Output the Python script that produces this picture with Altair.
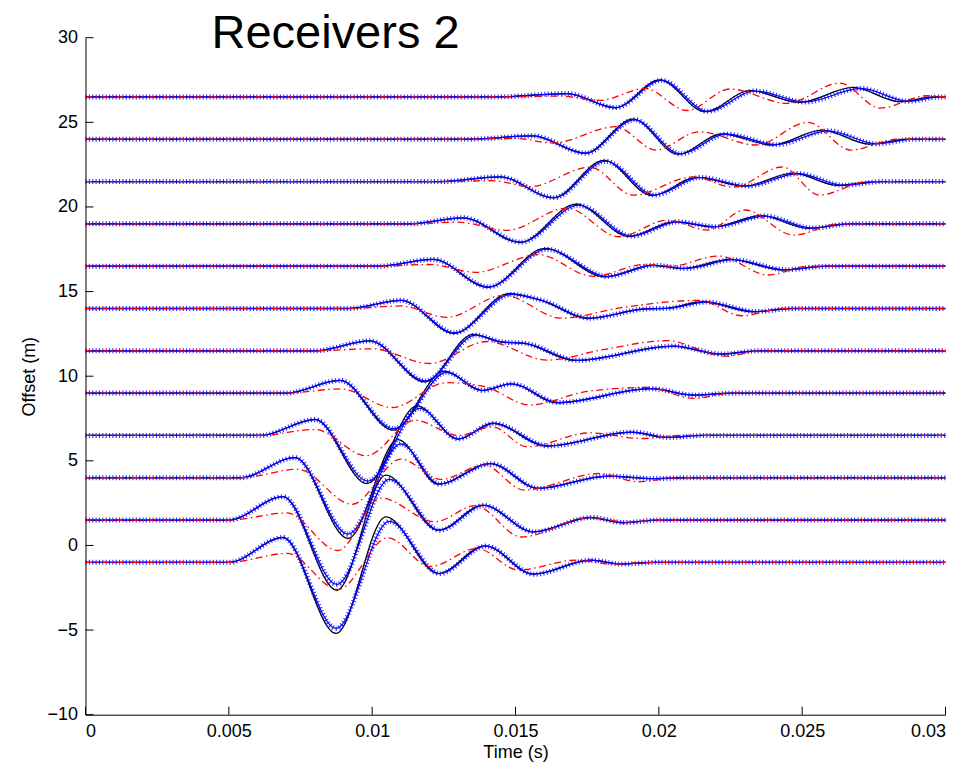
import altair as alt
import pandas as pd

# Receiver offsets (m), bottom trace first
OFFSETS = [-1, 1.5, 4, 6.5, 9, 11.5, 14, 16.5, 19, 21.5, 24, 26.5]

# Waveform knots per receiver: (time in ms, amplitude in m) at onsets and extrema
EXACT = [
    [(0, 0), (5.0, 0), (6.89, 1.47), (8.74, -4.2), (10.48, 2.69), (12.30, -0.66), (13.94, 0.98), (15.61, -0.70), (17.60, 0.13), (18.65, -0.10), (19.8, 0), (30, 0)],
    [(0, 0), (5.0, 0), (6.89, 1.38), (8.77, -4.15), (10.48, 2.65), (12.30, -0.60), (13.87, 0.88), (15.61, -0.70), (17.60, 0.15), (18.75, -0.16), (19.9, 0), (30, 0)],
    [(0, 0), (5.4, 0), (7.31, 1.19), (9.16, -3.59), (10.90, 2.25), (12.30, -0.38), (14.11, 0.84), (15.78, -0.63), (18.19, 0.10), (19.8, -0.05), (21.0, 0), (30, 0)],
    [(0, 0), (6.1, 0), (8.01, 0.94), (9.82, -2.85), (11.56, 1.75), (13.0, -0.22), (14.2, 0.72), (16.08, -0.63), (19.0, 0.20), (20.28, -0.12), (21.5, 0), (30, 0)],
    [(0, 0), (7.0, 0), (8.88, 0.75), (10.73, -2.19), (12.51, 1.3), (13.83, 0.15), (14.84, 0.55), (16.45, -0.57), (19.69, 0.26), (21.19, -0.12), (22.5, 0), (30, 0)],
    [(0, 0), (8.0, 0), (9.92, 0.59), (11.84, -1.83), (13.52, 0.97), (14.5, 0.52), (15.3, 0.44), (17.08, -0.57), (20.49, 0.28), (22.13, -0.2), (23.4, 0), (30, 0)],
    [(0, 0), (9.2, 0), (11.01, 0.48), (12.85, -1.47), (14.77, 0.87), (15.9, 0.48), (17.53, -0.59), (19.45, -0.03), (20.32, 0.02), (21.54, 0.4), (23.28, -0.2), (24.6, 0), (30, 0)],
    [(0, 0), (10.2, 0), (12.12, 0.4), (14.04, -1.25), (16.03, 1.05), (18.12, -0.63), (19.76, 0.05), (20.84, -0.14), (22.48, 0.4), (24.33, -0.23), (25.8, 0), (30, 0)],
    [(0, 0), (11.3, 0), (13.17, 0.36), (15.16, -1.1), (17.11, 1.16), (18.96, -0.74), (20.53, 0.12), (21.89, -0.18), (23.56, 0.49), (25.20, -0.27), (26.6, 0), (30, 0)],
    [(0, 0), (12.4, 0), (14.46, 0.28), (16.31, -0.96), (18.09, 1.25), (19.76, -0.83), (21.33, 0.25), (22.97, -0.27), (24.68, 0.5), (26.25, -0.23), (27.6, 0), (30, 0)],
    [(0, 0), (13.3, 0), (15.61, 0.2), (17.42, -0.83), (19.10, 1.19), (20.67, -0.88), (22.20, 0.31), (23.95, -0.34), (25.69, 0.54), (27.36, -0.29), (28.7, 0), (30, 0)],
    [(0, 0), (14.3, 0), (16.80, 0.2), (18.47, -0.64), (20.04, 1.0), (21.61, -0.87), (23.18, 0.37), (24.92, -0.32), (26.77, 0.56), (28.41, -0.28), (29.6, 0), (30, 0)],
]

INVERTED = [
    [(0, 0), (5.0, 0), (6.89, 1.47), (8.74, -3.9), (10.6, 2.42), (12.35, -0.66), (13.97, 0.96), (15.65, -0.70), (17.65, 0.13), (18.7, -0.10), (19.9, 0), (30, 0)],
    [(0, 0), (5.0, 0), (6.89, 1.38), (8.77, -3.8), (10.6, 2.4), (12.35, -0.6), (13.9, 0.86), (15.65, -0.7), (17.65, 0.15), (18.8, -0.15), (20.0, 0), (30, 0)],
    [(0, 0), (5.4, 0), (7.31, 1.19), (9.16, -3.33), (11.0, 2.0), (12.35, -0.36), (14.15, 0.83), (15.82, -0.63), (18.25, 0.10), (19.85, -0.05), (21.0, 0), (30, 0)],
    [(0, 0), (6.1, 0), (8.01, 0.94), (9.85, -2.7), (11.65, 1.6), (13.0, -0.2), (14.25, 0.71), (16.15, -0.62), (19.1, 0.2), (20.35, -0.12), (21.6, 0), (30, 0)],
    [(0, 0), (7.0, 0), (8.88, 0.75), (10.75, -2.1), (12.6, 1.22), (13.85, 0.16), (14.88, 0.55), (16.5, -0.56), (19.75, 0.26), (21.25, -0.12), (22.6, 0), (30, 0)],
    [(0, 0), (8.0, 0), (9.92, 0.59), (11.86, -1.78), (13.6, 0.93), (14.55, 0.52), (15.35, 0.44), (17.15, -0.56), (20.55, 0.28), (22.2, -0.19), (23.5, 0), (30, 0)],
    [(0, 0), (9.2, 0), (11.01, 0.48), (12.88, -1.43), (14.85, 0.83), (15.95, 0.47), (17.6, -0.57), (19.5, -0.03), (20.4, 0.02), (21.65, 0.38), (23.4, -0.18), (24.7, 0), (30, 0)],
    [(0, 0), (10.2, 0), (12.12, 0.4), (14.07, -1.22), (16.1, 1.0), (18.2, -0.6), (19.85, 0.05), (20.95, -0.13), (22.6, 0.38), (24.45, -0.21), (25.9, 0), (30, 0)],
    [(0, 0), (11.3, 0), (13.17, 0.36), (15.2, -1.08), (17.2, 1.1), (19.05, -0.72), (20.65, 0.12), (22.0, -0.17), (23.7, 0.46), (25.35, -0.25), (26.7, 0), (30, 0)],
    [(0, 0), (12.4, 0), (14.46, 0.28), (16.35, -0.95), (18.15, 1.2), (19.85, -0.8), (21.45, 0.24), (23.1, -0.26), (24.85, 0.47), (26.45, -0.22), (27.8, 0), (30, 0)],
    [(0, 0), (13.3, 0), (15.61, 0.2), (17.45, -0.82), (19.15, 1.15), (20.75, -0.86), (22.35, 0.3), (24.1, -0.32), (25.9, 0.5), (27.6, -0.27), (28.9, 0), (30, 0)],
    [(0, 0), (14.3, 0), (16.80, 0.2), (18.5, -0.63), (20.1, 0.98), (21.7, -0.85), (23.35, 0.35), (25.1, -0.3), (27.05, 0.5), (28.7, -0.26), (29.8, 0), (30, 0)],
]

INITIAL = [
    [(0, 0), (5.0, 0), (7.03, 0.53), (8.81, -1.6), (10.55, 1.45), (12.02, -0.25), (13.66, 0.82), (15.1, -0.45), (17.1, 0.13), (18.4, -0.1), (19.6, 0), (30, 0)],
    [(0, 0), (5.0, 0), (7.03, 0.42), (8.8, -1.8), (10.3, 1.3), (12.2, -0.1), (13.6, 0.85), (15.2, -1.0), (17.6, 0.15), (18.9, -0.12), (20.0, 0), (30, 0)],
    [(0, 0), (5.4, 0), (7.41, 0.5), (9.3, -1.57), (11.0, 1.1), (12.4, -0.1), (13.9, 0.75), (15.3, -0.73), (17.9, 0.25), (19.3, -0.24), (20.6, 0), (30, 0)],
    [(0, 0), (6.1, 0), (8.0, 0.35), (9.8, -1.2), (11.5, 0.9), (13.0, 0.0), (14.2, 0.5), (15.4, -0.67), (17.6, 0.15), (19.4, -0.18), (20.8, 0), (30, 0)],
    [(0, 0), (7.0, 0), (8.9, 0.25), (10.7, -0.85), (12.6, 0.62), (13.9, 0.4), (15.5, -0.7), (17.5, 0.1), (19.6, 0.34), (21.2, -0.31), (22.6, 0), (30, 0)],
    [(0, 0), (8.0, 0), (10.0, 0.12), (12.0, -0.75), (14.0, 0.55), (16.1, -0.55), (18.0, 0.05), (20.3, 0.6), (22.3, -0.32), (23.6, 0), (30, 0)],
    [(0, 0), (9.2, 0), (11.0, 0.15), (12.6, -0.52), (14.6, 0.78), (16.6, -0.57), (18.7, 0.05), (21.4, 0.48), (22.9, -0.43), (24.3, 0), (30, 0)],
    [(0, 0), (10.2, 0), (12.0, 0.1), (13.6, -0.36), (15.8, 0.68), (17.7, -0.6), (19.5, 0.1), (20.4, 0.0), (22.1, 0.6), (23.8, -0.52), (25.2, 0), (30, 0)],
    [(0, 0), (11.3, 0), (13.0, 0.1), (14.7, -0.38), (16.8, 0.93), (18.6, -0.76), (20.3, 0.22), (21.7, -0.37), (23.0, 0.82), (24.7, -0.66), (26.3, 0), (30, 0)],
    [(0, 0), (12.4, 0), (14.2, 0.05), (15.5, -0.3), (17.6, 0.85), (19.1, -0.8), (21.2, 0.28), (22.6, -0.33), (24.3, 0.86), (25.6, -0.8), (27.3, 0), (30, 0)],
    [(0, 0), (13.3, 0), (15.0, 0.05), (16.3, -0.22), (18.5, 0.74), (19.9, -0.64), (21.4, 0.44), (23.4, -0.34), (25.2, 1.0), (26.7, -0.64), (28.3, 0), (30, 0)],
    [(0, 0), (14.3, 0), (16.5, 0.05), (17.95, -0.2), (19.52, 0.5), (20.98, -0.8), (22.48, 0.47), (24.47, -0.38), (26.32, 0.82), (27.71, -0.66), (29.35, 0.07), (30, 0)],
]

X_TICKS = [0, 0.005, 0.01, 0.015, 0.02, 0.025, 0.03]
Y_TICKS = [-10, -5, 0, 5, 10, 15, 20, 25, 30]
TITLE = "Receivers 2"

FONT = "Liberation Sans"
PLOT_W = 860
PLOT_H = 677


def traces(name, knots):
    rows = []
    for i, off in enumerate(OFFSETS):
        for ms, amp in knots[i]:
            rows.append({"series": name, "trace": i, "t": ms / 1000.0, "y": off + amp})
    return rows


df = pd.DataFrame(traces("exact", EXACT) + traces("inverted", INVERTED) + traces("initial", INITIAL))

x_enc = alt.X(
    "t:Q",
    scale=alt.Scale(domain=[0, 0.03], nice=False, zero=False),
    axis=alt.Axis(values=X_TICKS, format="~g", title="Time (s)", ticks=False,
                  labelPadding=8, titlePadding=3, grid=False),
)
y_enc = alt.Y(
    "y:Q",
    scale=alt.Scale(domain=[-10, 30], nice=False, zero=False),
    axis=alt.Axis(values=Y_TICKS, title="Offset (m)", ticks=False,
                  labelPadding=8, titlePadding=8, grid=False),
)

base = alt.Chart(df)

exact = base.transform_filter(alt.datum.series == "exact").mark_line(
    color="#000000", strokeWidth=1.3, interpolate="monotone"
).encode(x=x_enc, y=y_enc, detail="trace:N")

inverted_line = base.transform_filter(alt.datum.series == "inverted").mark_line(
    color="#0000ff", strokeWidth=1.2, interpolate="monotone"
).encode(x=x_enc, y=y_enc, detail="trace:N")

# '+' markers: short bars across the blue path at a fixed spacing
inverted_marks = base.transform_filter(alt.datum.series == "inverted").mark_line(
    color="#0000ff", strokeWidth=5, strokeDash=[1.1, 2.25], strokeCap="butt",
    interpolate="monotone", opacity=0.8
).encode(x=x_enc, y=y_enc, detail="trace:N")

initial = base.transform_filter(alt.datum.series == "initial").mark_line(
    color="#ff0000", strokeWidth=1.3, strokeDash=[7, 3.5, 1.5, 3.5], interpolate="monotone"
).encode(x=x_enc, y=y_enc, detail="trace:N")

# inward tick marks on both axes
y_ticks = alt.Chart(pd.DataFrame({"y": Y_TICKS})).mark_rule(color="black", strokeWidth=1).encode(
    y=y_enc, x=alt.value(0), x2=alt.value(8)
)
x_ticks = alt.Chart(pd.DataFrame({"t": X_TICKS})).mark_rule(color="black", strokeWidth=1).encode(
    x=x_enc, y=alt.value(PLOT_H), y2=alt.value(PLOT_H - 8)
)

# figure heading, written off-centre near the top of the axes
heading = alt.Chart(pd.DataFrame({"label": [TITLE]})).mark_text(
    font=FONT, fontSize=47, color="black", align="left", baseline="alphabetic"
).encode(text="label:N", x=alt.value(126), y=alt.value(10.5))

chart = alt.layer(exact, inverted_line, inverted_marks, initial, y_ticks, x_ticks, heading).properties(
    width=PLOT_W,
    height=PLOT_H,
    autosize=alt.AutoSizeParams(type="none"),
    padding={"left": 85.5, "top": 37.7, "right": 18.5, "bottom": 54.5},
    background="white",
).configure_axis(
    labelFont=FONT, labelFontSize=18, labelColor="black",
    titleFont=FONT, titleFontSize=18, titleColor="black", titleFontWeight="normal",
    domainColor="black", domainWidth=1,
).configure_view(strokeWidth=0)

chart.save("out.html", embed_options={"renderer": "svg", "actions": False})
